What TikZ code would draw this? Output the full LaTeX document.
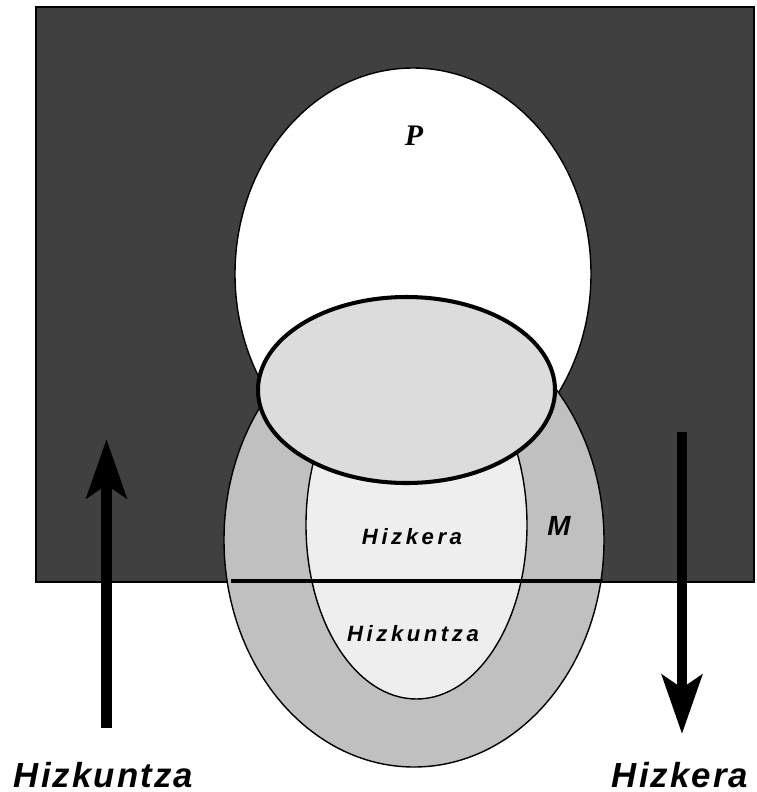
\documentclass[tikz,border=0pt]{standalone}
\usepackage{fontspec}
\setmainfont{Liberation Serif}
\setsansfont{Liberation Sans}
\newfontfamily\widesans[LetterSpace=6]{Liberation Sans}
\newfontfamily\widersans[LetterSpace=16]{Liberation Sans}
\usetikzlibrary{arrows.meta}
\definecolor{darkbg}{HTML}{404040}
\definecolor{ringgray}{HTML}{C0C0C0}
\definecolor{capgray}{HTML}{DCDCDC}
\definecolor{coregray}{HTML}{EEEEEE}

\begin{document}
\begin{tikzpicture}[x=0.02cm, y=-0.02cm,
  bigarrow/.style={line width=6.2pt, -{Stealth[length=33.5pt, width=22.7pt, inset=7.4pt]}},
  outerlabel/.style={anchor=base, font=\widesans\bfseries\itshape\fontsize{19.8pt}{22pt}\selectfont},
  innerlabel/.style={anchor=base, font=\widersans\bfseries\itshape\fontsize{12.6pt}{14pt}\selectfont}]

\useasboundingbox (0,0) rectangle (757,792);

\draw[line width=1.4pt, fill=darkbg] (36,7) rectangle (754,582);

\draw[line width=0.8pt, fill=white] (413,274) ellipse [x radius=178, y radius=206];

\draw[line width=0.8pt, fill=ringgray] (414,540) ellipse [x radius=190, y radius=227];

\draw[line width=0.8pt, fill=coregray] (416.5,525) ellipse [x radius=110.5, y radius=174];

\draw[line width=2.3pt, fill=capgray] (406.5,390) ellipse [x radius=148.5, y radius=93];

\coordinate (cutl) at (231,581);
\coordinate (cutr) at (603,581);
\draw[line width=2.8pt] (cutl) -- (cutr);

\coordinate (upfrom) at (106.5,728);
\coordinate (upto) at (106.5,439);
\coordinate (downfrom) at (682,432);
\coordinate (downto) at (682,734);

\draw[bigarrow] (upfrom) -- (upto);
\draw[bigarrow] (downfrom) -- (downto);

\node[anchor=base, font=\bfseries\itshape\fontsize{17pt}{20pt}\selectfont] (p) at (414,145) {P};

\node[anchor=base, font=\sffamily\bfseries\itshape\fontsize{15.8pt}{18pt}\selectfont] (m) at (559,535) {M};

\node[innerlabel] (hzkin) at (412,544) {Hizkera};
\node[innerlabel] (hzkuin) at (413,641) {Hizkuntza};

\node[outerlabel] (hzkuout) at (103.5,787) {Hizkuntza};
\node[outerlabel] (hzkout) at (680,787) {Hizkera};

\end{tikzpicture}
\end{document}
